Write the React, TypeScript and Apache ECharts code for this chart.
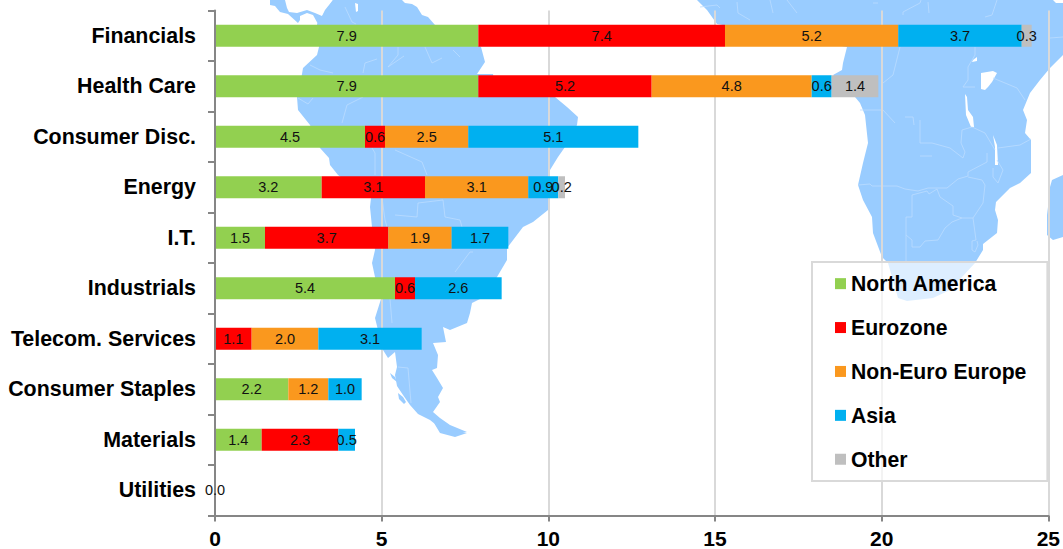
import React, { useEffect, useRef } from "react";
import * as echarts from "echarts";

const sectors = [
  "Financials", "Health Care", "Consumer Disc.", "Energy", "I.T.",
  "Industrials", "Telecom. Services", "Consumer Staples", "Materials", "Utilities",
];

const northAmerica = [7.9, 7.9, 4.5, 3.2, 1.5, 5.4, null, 2.2, 1.4, null];
const eurozone = [7.4, 5.2, 0.6, 3.1, 3.7, 0.6, 1.1, null, 2.3, null];
const nonEuroEurope = [5.2, 4.8, 2.5, 3.1, 1.9, null, 2.0, 1.2, null, null];
const asia = [3.7, 0.6, 5.1, 0.9, 1.7, 2.6, 3.1, 1.0, 0.5, null];
const other = [0.3, 1.4, null, 0.2, null, null, null, null, null, null];
// Utilities has no weight; its 0.0 label sits above the axis line, so it gets a series of its own.
const utilitiesZero = [null, null, null, null, null, null, null, null, null, 0.0];

const regionNames = ["North America", "Eurozone", "Non-Euro Europe", "Asia", "Other"];
const regionColors = ["#92D050", "#FF0000", "#FA981E", "#00B0F0", "#BFBFBF"];

const LAND = "#99CCFF";
const BORDER = "#BBDCFF";

// Backdrop map: land outlines in page pixels.
const centralAmerica = [
  [270, 0], [270, 5], [275, 6], [280, 12], [288, 14], [298, 23], [300, 20], [300, 16], [307, 13], [313, 15],
  [318, 24], [319, 47], [335, 47], [335, 10], [333, 0], [325, 10], [322, 16], [315, 13], [307, 10], [297, 13], [289, 12], [287, 8], [285, 0],
];
const southAmerica = [
  [333, 0], [402, 0], [405, 3], [412, 4], [417, 7], [422, 15], [428, 17], [435, 25], [481, 47], [485, 62], [477, 74],
  [493, 74], [494, 80], [555, 97], [567, 107], [578, 117], [577, 125], [565, 147], [558, 157], [550, 170], [550, 198], [548, 210],
  [533, 222], [523, 227], [507, 248], [507, 260], [497, 277], [480, 299], [472, 303], [470, 313], [467, 323], [450, 330], [443, 327],
  [446, 342], [433, 343], [438, 355], [437, 368], [432, 370], [437, 378], [443, 388], [438, 397], [440, 402], [433, 412], [440, 418],
  [450, 425], [467, 432], [453, 433], [445, 432], [430, 420], [418, 414], [410, 405], [403, 395], [397, 386], [395, 375], [397, 367],
  [395, 352], [388, 358], [383, 350], [375, 318], [381, 299], [375, 277], [372, 263], [375, 250], [372, 227], [370, 207], [371, 198],
  [338, 175], [330, 165], [329, 158], [320, 148], [310, 125], [298, 110], [297, 97], [302, 74], [303, 68], [317, 55], [319, 47], [317, 24],
];
const tierraDelFuego = [[434, 423], [445, 428], [467, 433], [458, 436], [455, 437], [440, 433]];
const chileanIslands = [[398, 393], [403, 397], [406, 402], [404, 404], [399, 399]];
const chileanInlet = [[390, 373], [395, 377], [397, 382], [392, 378]];
const africa = [
  [697, 0], [1053, 0], [1056, 3], [1063, 3], [1063, 55], [1050, 68], [1040, 80], [1030, 93], [1023, 110], [1027, 120], [1025, 133], [1031, 140],
  [1031, 173], [1020, 183], [1010, 188], [996, 202], [995, 210], [998, 220], [997, 233], [983, 244], [983, 250], [975, 263], [950, 290], [933, 298],
  [907, 301], [898, 298], [888, 263], [885, 260], [882, 257], [873, 233], [872, 217], [863, 200], [858, 185], [863, 163], [868, 143], [865, 115],
  [860, 103], [855, 97], [833, 75], [842, 70], [843, 63], [847, 47], [717, 24], [707, 10],
];
const madagascar = [[1063, 175], [1052, 180], [1050, 187], [1048, 207], [1047, 215], [1047, 235], [1053, 240], [1063, 237]];

const lakes = [
  [[355, 3], [358, 4], [358, 11], [356, 12]],
  [[981, 73], [993, 71], [997, 73], [992, 82], [988, 87], [985, 90], [981, 89]],
  [[973, 60], [977, 57], [977, 61], [972, 62]],
  [[965, 94], [967, 97], [968, 110], [973, 117], [974, 127], [971, 127], [966, 115]],
  [[993, 135], [997, 145], [998, 165], [995, 165], [995, 147]],
];

const borders = [
  [[858, 185], [870, 184], [872, 186], [897, 186], [905, 189], [918, 191], [928, 188], [947, 188], [958, 179], [968, 176], [968, 172], [987, 162], [987, 153]],
  [[912, 195], [912, 217], [906, 217], [906, 262]],
  [[912, 195], [927, 191], [929, 194], [937, 189], [940, 197], [953, 206], [953, 215], [962, 218], [973, 218], [983, 203], [985, 185], [982, 180], [968, 177]],
  [[962, 218], [952, 222], [945, 228], [938, 240], [925, 241], [920, 247], [912, 247], [912, 240], [906, 235]],
  [[973, 218], [976, 240], [972, 241], [972, 250], [975, 252], [978, 245], [977, 241]],
  [[920, 120], [920, 143], [932, 143], [950, 148], [963, 158], [965, 152], [961, 143], [962, 130], [972, 127], [985, 133], [995, 150]],
  [[920, 156], [932, 156]],
  [[998, 148], [1020, 145], [1031, 139]],
  [[993, 168], [993, 177], [998, 183], [1003, 170], [997, 160]],
  [[975, 47], [975, 55], [968, 67], [968, 80], [963, 87], [975, 87]],
  [[993, 78], [1017, 88], [1025, 100]],
  [[900, 47], [893, 75], [883, 83]],
  [[905, 117], [913, 117], [914, 125]],
  [[860, 110], [883, 110], [895, 123]],
  [[700, 7], [717, 5], [720, 8]],
  [[737, 2], [738, 13], [750, 20]],
  [[770, 0], [773, 13]],
  [[787, 0], [797, 13]],
  [[921, 0], [920, 3], [903, 12], [903, 15]],
  [[928, 2], [929, 13]],
  [[997, 0], [992, 15], [985, 17]],
  [[1050, 38], [1063, 37]],
  [[873, 3], [878, 3]],
  [[345, 7], [352, 22], [356, 24]],
  [[398, 47], [398, 55], [388, 67], [404, 56]],
  [[425, 47], [432, 63], [442, 58]],
  [[377, 59], [365, 63], [363, 73]],
  [[363, 97], [347, 105], [342, 123]],
  [[310, 65], [320, 70], [333, 73]],
  [[298, 98], [308, 104], [313, 98]],
  [[453, 50], [460, 57]],
  [[372, 148], [375, 153], [375, 175]],
  [[395, 150], [422, 162], [427, 175]],
  [[382, 198], [385, 220], [387, 227]],
  [[418, 203], [417, 217], [395, 215]],
  [[418, 203], [443, 200], [445, 217], [460, 220], [462, 227]],
  [[473, 252], [470, 252], [455, 272]],
  [[390, 299], [392, 323]],
  [[398, 367], [408, 368], [411, 403]],
];

const landShapes = [centralAmerica, southAmerica, tierraDelFuego, chileanIslands, chileanInlet, africa, madagascar];

const seriesValues = [northAmerica, eurozone, nonEuroEurope, asia, other];

const labelFont = "'Liberation Sans', Arial, sans-serif";

const valueLabel = {
  show: true,
  position: "inside",
  formatter: (p: { value: number }) => p.value.toFixed(1),
  fontFamily: labelFont,
  fontSize: 14.5,
  color: "#111",
};

export default function App() {
  const ref = useRef<HTMLDivElement>(null);

  useEffect(() => {
    const chart = echarts.init(ref.current!, undefined, { renderer: "svg" });
    const backdrop = [
      ...landShapes.map((points) => ({
        type: "polygon", silent: true, z: -2,
        shape: { points }, style: { fill: LAND },
      })),
      ...lakes.map((points) => ({
        type: "polygon", silent: true, z: -1,
        shape: { points }, style: { fill: "#FFFFFF" },
      })),
      ...borders.map((points) => ({
        type: "polyline", silent: true, z: -1,
        shape: { points }, style: { fill: "none", stroke: BORDER, lineWidth: 0.8 },
      })),
    ];

    chart.setOption({
      animation: false,
      backgroundColor: "#FFFFFF",
      graphic: { elements: backdrop },
      grid: { left: 215, top: 10.5, width: 836, height: 505, containLabel: false },
      legend: {
        data: regionNames,
        orient: "vertical",
        left: 812,
        top: 262,
        width: 237,
        icon: "rect",
        itemWidth: 11,
        itemHeight: 11,
        itemGap: 22.6,
        padding: [11, 21, 11, 23],
        selectedMode: false,
        backgroundColor: "rgba(255,255,255,0.67)",
        borderColor: "#D9D9D9",
        borderWidth: 2,
        textStyle: { fontFamily: labelFont, fontWeight: "bold", fontSize: 21.2, lineHeight: 21.3, color: "#000" },
      },
      xAxis: {
        type: "value",
        min: 0,
        max: 25,
        interval: 5,
        position: "bottom",
        axisLine: { show: true, lineStyle: { color: "#868686", width: 2 } },
        axisTick: { show: true, length: 6, lineStyle: { color: "#868686", width: 2 } },
        axisLabel: { margin: 12, fontFamily: labelFont, fontWeight: "bold", fontSize: 21, color: "#000" },
        splitLine: { show: true, lineStyle: { color: "#D9D9D9", width: 2 } },
      },
      yAxis: {
        type: "category",
        data: sectors,
        inverse: true,
        z: 3,
        axisLine: { show: true, lineStyle: { color: "#868686", width: 2 } },
        axisTick: { show: true, length: 7, lineStyle: { color: "#868686", width: 2 } },
        axisLabel: {
          margin: 19, padding: [0, 0, 2, 0], interval: 0,
          fontFamily: labelFont, fontWeight: "bold", fontSize: 21.4, color: "#000",
        },
        splitLine: { show: false },
      },
      series: [
        ...regionNames.map((name, i) => ({
          name,
          type: "bar",
          stack: "total",
          barWidth: 22,
          data: seriesValues[i],
          itemStyle: { color: regionColors[i] },
          label: valueLabel,
        })),
        {
          name: "Utilities",
          type: "bar",
          stack: "total",
          barWidth: 22,
          z: 4,
          data: utilitiesZero,
          itemStyle: { color: regionColors[0] },
          label: valueLabel,
        },
      ],
    });

    return () => chart.dispose();
  }, []);

  return <div ref={ref} style={{ position: "absolute", left: 0, top: 0, width: 1063, height: 549 }} />;
}
